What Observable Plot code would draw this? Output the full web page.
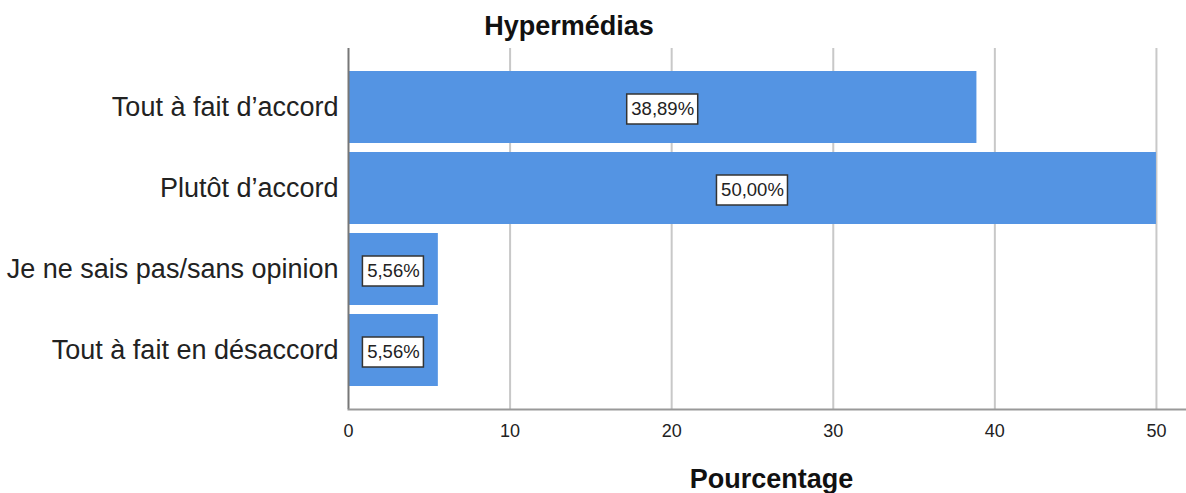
<!DOCTYPE html>
<html>
<head>
<meta charset="utf-8">
<script src="https://cdn.jsdelivr.net/npm/d3@7"></script>
<script src="https://cdn.jsdelivr.net/npm/@observablehq/plot@0.6"></script>
<style>
  html, body { margin: 0; padding: 0; background: #fff; }
  #wrap { position: relative; width: 1186px; height: 493px; padding-top: 40px; box-sizing: border-box; }
  #title { position: absolute; top: 13px; left: 569px; transform: translateX(-50%);
    font: bold 27px "Liberation Sans", Arial, sans-serif; line-height: 27px; color: #111; white-space: nowrap; }
  svg { display: block; }
</style>
</head>
<body>
<div id="wrap">
  <div id="title"></div>
</div>
<script>
const title = "Hypermédias";
const categories = ["Tout à fait d’accord", "Plutôt d’accord", "Je ne sais pas/sans opinion", "Tout à fait en désaccord"];
const values = [38.89, 50.00, 5.56, 5.56];
const xTicks = [0, 10, 20, 30, 40, 50];
const xLabel = ["Pourcentage"];

document.getElementById("title").textContent = title;

const fmt = v => v.toFixed(2).replace(".", ",") + "%";
const data = categories.map((c, i) => ({category: c, value: values[i], label: fmt(values[i])}));
const wide = data.filter(d => d.value >= 10);
const narrow = data.filter(d => d.value < 10);

const boxOpts = (w) => ({
  x1: d => d.value / 2, x2: d => d.value / 2, y: "category",
  insetLeft: -w / 2, insetRight: -w / 2, insetTop: 23, insetBottom: 19,
  fill: "white", stroke: "#333", strokeWidth: 1.5
});

const chart = Plot.plot({
  width: 1186,
  height: 453,
  marginLeft: 348,
  marginRight: 0,
  marginTop: 8,
  marginBottom: 84,
  style: {fontFamily: "'Liberation Sans', Arial, sans-serif", color: "#222", background: "white"},
  x: {domain: [0, 51.86]},
  y: {domain: categories, padding: 0.113, insetTop: 13, insetBottom: 13},
  marks: [
    Plot.gridX(xTicks.filter(t => t > 0), {stroke: "#c8c8c8", strokeWidth: 2, strokeOpacity: 1}),
    Plot.barX(data, {x: "value", y: "category", fill: "#5494E3"}),
    Plot.barX(wide, boxOpts(71)),
    Plot.barX(narrow, boxOpts(61)),
    Plot.text(data, {x: d => d.value / 2, y: "category", text: "label", fontSize: 18.5, fill: "#222", dy: 2}),
    Plot.ruleX([0], {stroke: "#777", strokeWidth: 2}),
    Plot.frame({anchor: "bottom", stroke: "#999", strokeWidth: 2}),
    Plot.axisY({tickSize: 0, tickPadding: 10, fontSize: 27, label: null}),
    Plot.axisX({ticks: xTicks, tickSize: 0, tickPadding: 15, fontSize: 18, fontFamily: "'Liberation Sans Narrow', 'Arial Narrow', 'Liberation Sans', sans-serif", label: null}),
    Plot.text(xLabel, {frameAnchor: "bottom", dy: 78, dx: 4, fontSize: 27, fontWeight: "bold", fill: "#111"})
  ]
});
document.getElementById("wrap").appendChild(chart);
</script>
</body>
</html>
